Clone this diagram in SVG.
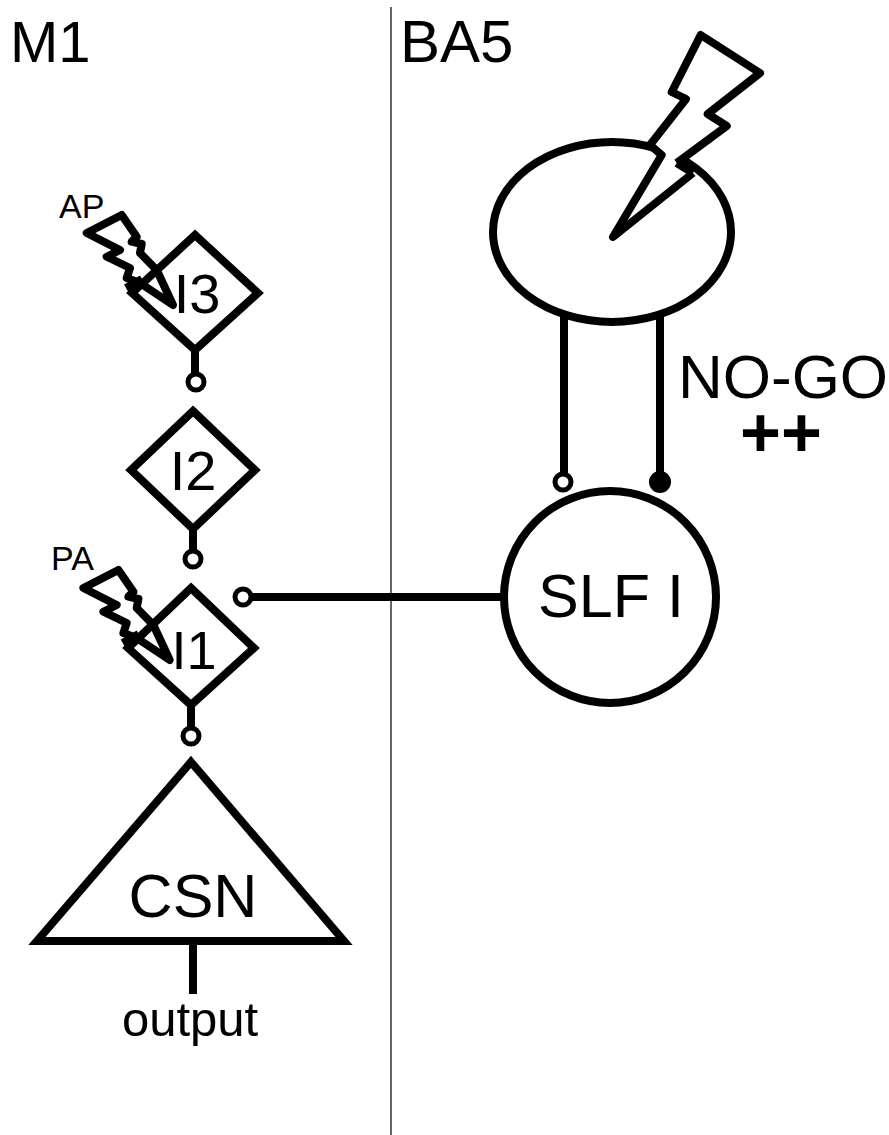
<svg xmlns="http://www.w3.org/2000/svg" width="889" height="1135" viewBox="0 0 889 1135">
<style>
text{font-family:"Liberation Sans",Arial,sans-serif;fill:#000}
.s{fill:none;stroke:#000;stroke-width:8;stroke-linejoin:miter}
.w{fill:#fff;stroke:#000;stroke-width:8}
.b{fill:none;stroke:#000;stroke-width:8;stroke-linejoin:round}
.c{stroke:#000;stroke-width:8;fill:none}
.o{fill:#fff;stroke:#000;stroke-width:5}
</style>
<rect width="889" height="1135" fill="#fff"/>
<g id="divider"><line x1="391" y1="7" x2="391" y2="1135" stroke="#666" stroke-width="2"/></g>
<g id="regions"><text x="10" y="62" font-size="58">M1</text><text x="400" y="62" font-size="60">BA5</text></g>
<g id="connectors">
<line class="c" x1="195" y1="350" x2="195" y2="376"/>
<line class="c" x1="193" y1="529" x2="193" y2="552"/>
<line class="c" x1="191" y1="705" x2="191" y2="730"/>
<line class="c" x1="193" y1="942" x2="193" y2="994"/>
<line class="c" x1="250" y1="597" x2="503" y2="597"/>
<line class="c" x1="564" y1="305" x2="564" y2="474"/>
<line class="c" x1="660" y1="305" x2="660" y2="474"/>
<circle class="o" cx="196" cy="382" r="8"/>
<circle class="o" cx="193" cy="559" r="8"/>
<circle class="o" cx="191" cy="736" r="8"/>
<circle class="o" cx="243" cy="597" r="8"/>
<circle class="o" cx="563" cy="482" r="8"/>
<circle cx="660" cy="482" r="10" fill="#000" stroke="#000" stroke-width="2"/>
</g>
<g id="BA5-cell">
<ellipse cx="612" cy="232" rx="119" ry="90" fill="#fff" stroke="#000" stroke-width="8"/>
<path fill="#fff" stroke="none" d="M653 147L686 99L671.700 92L700.700 35L760 73L707.700 114L726.700 126L676.700 163L693 173L613 237L661.700 155Z"/>
<path class="b" d="M650 145L661.700 155L613 237L693 173M676.700 163L726.700 126L707.700 114L760 73L700.700 35L671.700 92L686 99L650 145M676.700 163L693 173"/>
</g>
<g id="I3">
<path class="w" d="M195 235L258 293L195 350L132 293Z"/>
<text x="197" y="313" font-size="56" text-anchor="middle">I3</text>
</g>
<g id="AP"><text x="59" y="218" font-size="34">AP</text>
<path class="b" d="M121.700 215L86.700 233L120 250L106.700 256.700L130 268L126.700 278L140 283L173 305L156.700 270L140 253L141.700 244L131.700 241.700L136.700 236.700Z"/>
<path class="b" d="M126 288L142 279"/>
</g>
<g id="I2">
<path class="w" d="M193 411L255 470L193 529L131 470Z"/>
<text x="193" y="490" font-size="56" text-anchor="middle">I2</text>
</g>
<g id="I1">
<path class="w" d="M191 588L254 648L191 705L128 648Z"/>
<text x="194" y="669" font-size="54" text-anchor="middle">I1</text>
</g>
<g id="PA"><text x="51" y="570" font-size="34">PA</text>
<path class="b" d="M118.400 570L83.400 588L116.700 605L103.400 611.700L126.700 623L123.400 633L136.700 638L169.700 660L153.400 625L136.700 608L138.400 599L128.400 596.700L133.400 591.700Z"/>
<path class="b" d="M122.700 643L138.700 634"/>
</g>
<g id="CSN">
<path class="s" d="M191 762L344 941L37 941Z"/>
<text x="193" y="917" font-size="61" text-anchor="middle">CSN</text>
</g>
<text id="output" x="190" y="1036" font-size="49" text-anchor="middle">output</text>
<g id="SLF-I">
<circle cx="610" cy="597" r="106" fill="#fff" stroke="#000" stroke-width="8"/>
<text x="611" y="617" font-size="61" text-anchor="middle">SLF I</text>
</g>
<g id="no-go"><text x="678" y="398" font-size="62">NO-GO</text>
<text x="781" y="457" font-size="70" font-weight="bold" text-anchor="middle">++</text></g>
</svg>
